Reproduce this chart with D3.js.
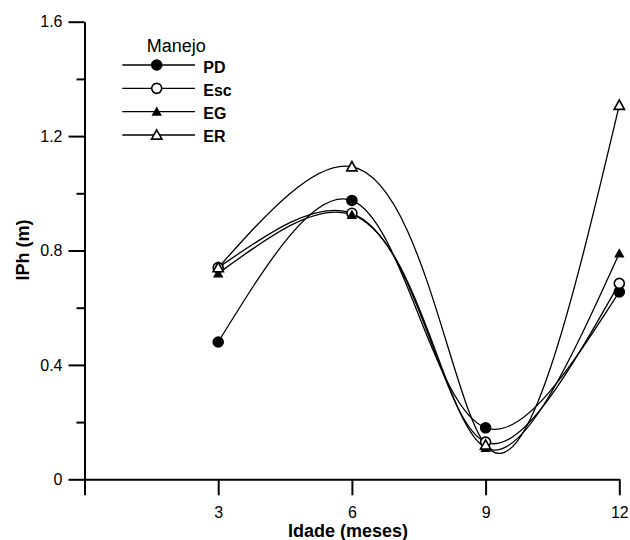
<!DOCTYPE html>
<html>
<head>
<meta charset="utf-8">
<script src="https://cdn.jsdelivr.net/npm/d3@7"></script>
<style>
  html, body { margin: 0; padding: 0; background: #fff; }
  svg { display: block; font-family: Arial, "Liberation Sans", Helvetica, sans-serif; }
</style>
</head>
<body>
<svg id="chart" width="630" height="540"></svg>
<script>
// Idade (meses) at which IPh was measured
const ages = [3, 6, 9, 12];

// IPh (m) per management treatment
const seriesNames = ["PD", "Esc", "EG", "ER"];
const pdValues  = [0.48, 0.975, 0.18, 0.655];
const escValues = [0.74, 0.93, 0.13, 0.685];
const egValues  = [0.72, 0.925, 0.11, 0.79];
const erValues  = [0.74, 1.093, 0.12, 1.308];

// Axis ticks
const xTicks = [0, 3, 6, 9, 12];
const yMajorTicks = [0, 0.4, 0.8, 1.2, 1.6];
const yMinorTicks = [0.2, 0.6, 1.0, 1.4];

const seriesValues = [pdValues, escValues, egValues, erValues];
const markerKinds = ["circleFilled", "circleOpen", "triangleFilled", "triangleOpen"];

const svg = d3.select("#chart");

const x = d3.scaleLinear().domain([0, 12]).range([84.5, 619.3]);
const y = d3.scaleLinear().domain([0, 1.6]).range([479.3, 21.7]);

// Parametric natural cubic spline (chord-length parameter), as a d3 curve factory
function solveNatural(v, h) {
  const n = v.length;
  const M = new Array(n).fill(0);
  if (n < 3) return M;
  // tridiagonal system for interior second derivatives
  const a = [], b = [], c = [], r = [];
  for (let i = 1; i < n - 1; i++) {
    a.push(h[i - 1]);
    b.push(2 * (h[i - 1] + h[i]));
    c.push(h[i]);
    r.push(6 * ((v[i + 1] - v[i]) / h[i] - (v[i] - v[i - 1]) / h[i - 1]));
  }
  const m = b.length;
  for (let i = 1; i < m; i++) {
    const w = a[i] / b[i - 1];
    b[i] -= w * c[i - 1];
    r[i] -= w * r[i - 1];
  }
  const sol = new Array(m);
  sol[m - 1] = r[m - 1] / b[m - 1];
  for (let i = m - 2; i >= 0; i--) sol[i] = (r[i] - c[i] * sol[i + 1]) / b[i];
  for (let i = 0; i < m; i++) M[i + 1] = sol[i];
  return M;
}

function curveParametricSpline(context) {
  let pts;
  return {
    areaStart() {}, areaEnd() {},
    lineStart() { pts = []; },
    point(px, py) { pts.push([+px, +py]); },
    lineEnd() {
      const n = pts.length;
      if (!n) return;
      context.moveTo(pts[0][0], pts[0][1]);
      if (n === 1) return;
      const h = [];
      for (let i = 0; i < n - 1; i++) {
        h.push(Math.hypot(pts[i + 1][0] - pts[i][0], pts[i + 1][1] - pts[i][1]) || 1e-6);
      }
      const xs = pts.map(p => p[0]), ys = pts.map(p => p[1]);
      const Mx = solveNatural(xs, h), My = solveNatural(ys, h);
      for (let i = 0; i < n - 1; i++) {
        const hi = h[i];
        const sx = (xs[i + 1] - xs[i]) / hi, sy = (ys[i + 1] - ys[i]) / hi;
        const dx0 = sx - hi * (2 * Mx[i] + Mx[i + 1]) / 6;
        const dy0 = sy - hi * (2 * My[i] + My[i + 1]) / 6;
        const dx1 = sx + hi * (Mx[i] + 2 * Mx[i + 1]) / 6;
        const dy1 = sy + hi * (My[i] + 2 * My[i + 1]) / 6;
        context.bezierCurveTo(
          xs[i] + dx0 * hi / 3, ys[i] + dy0 * hi / 3,
          xs[i + 1] - dx1 * hi / 3, ys[i + 1] - dy1 * hi / 3,
          xs[i + 1], ys[i + 1]);
      }
    }
  };
}

// Y axis: long major ticks with labels, short minor ticks
svg.append("g").attr("transform", `translate(${x(0)},0)`)
  .call(d3.axisLeft(y).tickValues(yMajorTicks).tickSize(16).tickSizeOuter(0).tickPadding(6)
    .tickFormat(d => d === 0 ? "0" : d.toFixed(1)));
svg.append("g").attr("transform", `translate(${x(0)},0)`)
  .call(d3.axisLeft(y).tickValues(yMinorTicks).tickSize(8).tickSizeOuter(0).tickFormat(""))
  .select(".domain").remove();

// X axis
svg.append("g").attr("transform", `translate(0,${y(0)})`)
  .call(d3.axisBottom(x).tickValues(xTicks).tickSize(16).tickSizeOuter(0).tickPadding(11)
    .tickFormat(d => d === 0 ? "" : d));

svg.selectAll(".domain, .tick line").attr("stroke", "#000").attr("stroke-width", 2);
svg.selectAll(".tick text").attr("font-size", 16).attr("fill", "#000")
  .attr("font-family", "Arial, 'Liberation Sans', sans-serif");

// Axis titles
svg.append("text")
  .attr("transform", "translate(29,250) rotate(-90)")
  .attr("text-anchor", "middle").attr("font-weight", "bold").attr("font-size", 18)
  .text("IPh (m)");
svg.append("text")
  .attr("x", 348).attr("y", 537)
  .attr("text-anchor", "middle").attr("font-weight", "bold").attr("font-size", 18)
  .text("Idade (meses)");

// Smooth curves through each treatment's points
const line = d3.line()
  .x((d, i) => x(ages[i]))
  .y(d => y(d))
  .curve(curveParametricSpline);

svg.append("g").selectAll("path")
  .data(seriesValues)
  .join("path")
  .attr("d", d => line(d))
  .attr("fill", "none")
  .attr("stroke", "#000")
  .attr("stroke-width", 1.3);

function drawMarker(g, kind, cx, cy) {
  if (kind === "circleFilled") {
    g.append("circle").attr("cx", cx).attr("cy", cy).attr("r", 5.8).attr("fill", "#000");
  } else if (kind === "circleOpen") {
    g.append("circle").attr("cx", cx).attr("cy", cy).attr("r", 5)
      .attr("fill", "#fff").attr("stroke", "#000").attr("stroke-width", 1.6);
  } else {
    const s = 5.2;
    const pts = [[cx, cy - s * 1.0], [cx + s, cy + s * 0.8], [cx - s, cy + s * 0.8]];
    const p = g.append("path").attr("d", "M" + pts.map(p => p.join(",")).join("L") + "Z");
    if (kind === "triangleFilled") p.attr("fill", "#000");
    else p.attr("fill", "#fff").attr("stroke", "#000").attr("stroke-width", 1.6);
  }
}

// Markers on the data points
const markers = svg.append("g");
seriesValues.forEach((vals, si) => {
  vals.forEach((v, i) => drawMarker(markers, markerKinds[si], x(ages[i]), y(v)));
});

// Legend
const legend = svg.append("g");
legend.append("text").attr("x", 146.7).attr("y", 51.7).attr("font-size", 18).text("Manejo");
seriesNames.forEach((name, i) => {
  const ry = 65 + i * 23.33;
  legend.append("line").attr("x1", 122.3).attr("x2", 195).attr("y1", ry).attr("y2", ry)
    .attr("stroke", "#000").attr("stroke-width", 1.3);
  drawMarker(legend, markerKinds[i], 156.7, ry);
  legend.append("text").attr("x", 203.3).attr("y", ry + 7.5)
    .attr("font-size", 16).attr("font-weight", "bold").text(name);
});
</script>
</body>
</html>
